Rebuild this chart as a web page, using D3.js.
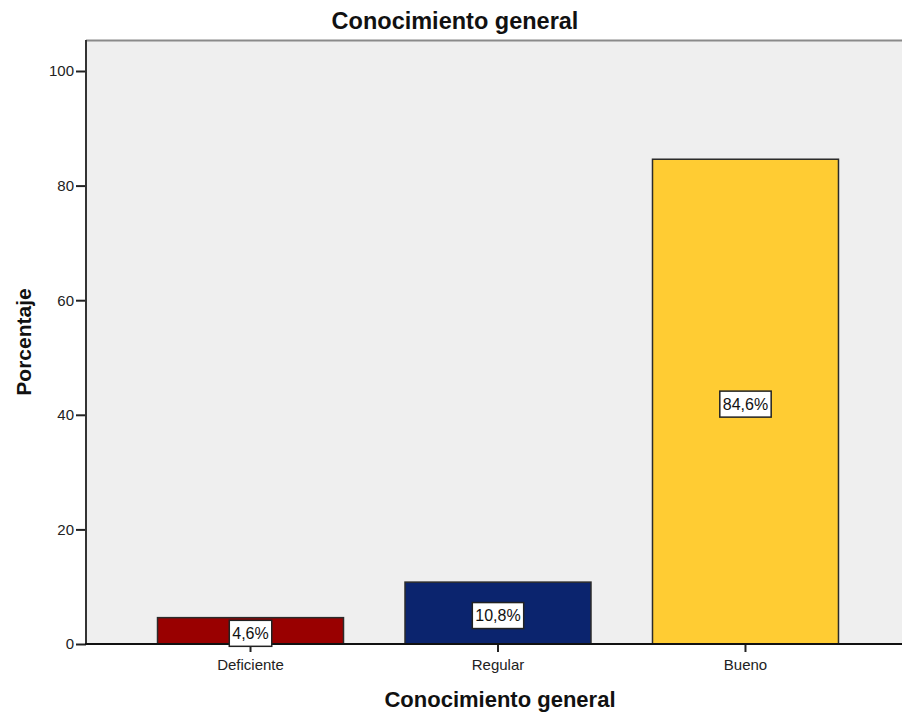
<!DOCTYPE html>
<html>
<head>
<meta charset="utf-8">
<script src="https://cdn.jsdelivr.net/npm/d3@7"></script>
<style>
  html, body { margin: 0; padding: 0; background: #fff; }
  svg { display: block; font-family: "Liberation Sans", Arial, sans-serif; }
</style>
</head>
<body>
<svg id="chart" width="902" height="713"></svg>
<script>
// Data
const categories = ["Deficiente", "Regular", "Bueno"];
const values = [4.6, 10.8, 84.6];
const valueLabels = ["4,6%", "10,8%", "84,6%"];
const colors = ["#990000", "#0b246e", "#ffcc33"];
const yTicks = [0, 20, 40, 60, 80, 100];

const svg = d3.select("#chart");
const plotLeft = 86, plotRight = 910, plotTop = 40, plotBottom = 644;

const x = d3.scaleBand()
  .domain(categories)
  .range([plotLeft, plotRight])
  .paddingInner(0.2485)
  .paddingOuter(0.289);

const y = d3.scaleLinear()
  .domain([0, 100])
  .range([plotBottom, plotBottom - 573]);

// plot background
svg.append("rect")
  .attr("x", plotLeft).attr("y", plotTop)
  .attr("width", 902 - plotLeft).attr("height", plotBottom - plotTop)
  .attr("fill", "#efefef");

// top frame line
svg.append("line")
  .attr("x1", plotLeft).attr("x2", 902)
  .attr("y1", plotTop + 0.5).attr("y2", plotTop + 0.5)
  .attr("stroke", "#8a8a8a").attr("stroke-width", 2);

// bars
svg.selectAll("rect.bar")
  .data(categories)
  .enter().append("rect")
  .attr("class", "bar")
  .attr("x", d => x(d))
  .attr("y", (d, i) => y(values[i]))
  .attr("width", x.bandwidth())
  .attr("height", (d, i) => y(0) - y(values[i]))
  .attr("fill", (d, i) => colors[i])
  .attr("stroke", "#2b2b2b")
  .attr("stroke-width", 1.5);

// y axis
const yAxis = svg.append("g")
  .attr("transform", `translate(${plotLeft},0)`)
  .call(d3.axisLeft(y).tickValues(yTicks).tickSize(10).tickPadding(2).tickFormat(d3.format("d")));
yAxis.select(".domain").remove();
yAxis.selectAll(".tick line").attr("stroke", "#222").attr("stroke-width", 2);
yAxis.selectAll(".tick text")
  .attr("fill", "#222")
  .style("font-size", "15px")
  .style("font-family", "'Liberation Sans', Arial, sans-serif");

svg.append("line")
  .attr("x1", plotLeft).attr("x2", plotLeft)
  .attr("y1", plotTop).attr("y2", plotBottom)
  .attr("stroke", "#333").attr("stroke-width", 2);

// x axis
const xAxis = svg.append("g")
  .attr("transform", `translate(0,${plotBottom})`)
  .call(d3.axisBottom(x).tickSize(8).tickPadding(7));
xAxis.select(".domain").remove();
xAxis.selectAll(".tick line").attr("stroke", "#222").attr("stroke-width", 2);
xAxis.selectAll(".tick text")
  .attr("fill", "#222")
  .style("font-size", "15px")
  .style("font-family", "'Liberation Sans', Arial, sans-serif");

svg.append("line")
  .attr("x1", plotLeft - 1).attr("x2", 902)
  .attr("y1", plotBottom).attr("y2", plotBottom)
  .attr("stroke", "#111").attr("stroke-width", 2);

// value labels
const lab = svg.selectAll("g.vlabel")
  .data(categories)
  .enter().append("g")
  .attr("class", "vlabel")
  .attr("transform", (d, i) => `translate(${x(d) + x.bandwidth() / 2},${(y(values[i]) + y(0)) / 2 + 2.5})`);

lab.append("text")
  .attr("text-anchor", "middle")
  .attr("dy", "0.36em")
  .style("font-size", "16px")
  .attr("fill", "#111")
  .text((d, i) => valueLabels[i]);

lab.each(function () {
  const g = d3.select(this);
  const bb = g.select("text").node().getBBox();
  g.insert("rect", "text")
    .attr("x", bb.x - 3).attr("y", -13)
    .attr("width", bb.width + 6).attr("height", 26)
    .attr("fill", "#fff")
    .attr("stroke", "#222").attr("stroke-width", 1.5);
});

// titles
svg.append("text")
  .attr("x", 455).attr("y", 29)
  .attr("text-anchor", "middle")
  .style("font-size", "23.5px").style("font-weight", "bold")
  .attr("fill", "#111")
  .text("Conocimiento general");

svg.append("text")
  .attr("x", 500).attr("y", 707)
  .attr("text-anchor", "middle")
  .style("font-size", "22px").style("font-weight", "bold")
  .attr("fill", "#111")
  .text("Conocimiento general");

svg.append("text")
  .attr("transform", `translate(31,${(plotTop + plotBottom) / 2}) rotate(-90)`)
  .attr("text-anchor", "middle")
  .style("font-size", "21px").style("font-weight", "bold")
  .attr("fill", "#111")
  .text("Porcentaje");
</script>
</body>
</html>
